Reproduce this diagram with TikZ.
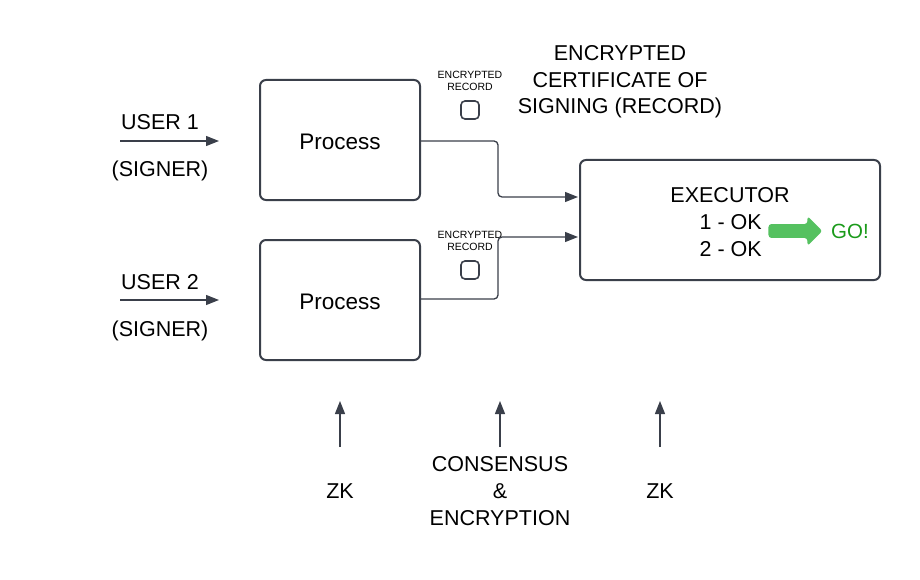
\documentclass[tikz,border=0pt]{standalone}
\usepackage{fontspec}
\setmainfont{Liberation Sans}
\usetikzlibrary{arrows.meta,shapes.arrows}
\definecolor{edge}{HTML}{3A3F4A}
\definecolor{goarrow}{HTML}{55C160}
\definecolor{gotext}{HTML}{1A9A1A}
\begin{document}
\begin{tikzpicture}[x=1pt,y=-1pt,
  box/.style={draw=edge,line width=2pt,rounded corners=6pt,minimum width=160pt,minimum height=120pt,inner sep=0pt},
  rec/.style={draw=edge,line width=1.6pt,rounded corners=4pt,minimum width=18pt,minimum height=18pt,inner sep=0pt},
  lbl/.style={font=\fontsize{21.5}{27}\selectfont,inner sep=0pt,align=center},
  small/.style={font=\fontsize{10.5}{12.5}\selectfont,inner sep=0pt,align=center},
  conn/.style={draw=edge,line width=1.3pt,-{Triangle[length=13pt,width=10pt]}}
]
\useasboundingbox (0,0) rectangle (920,580);
\node[box] (p1) at (340,140) {};
\node[lbl,font=\fontsize{22.5}{27}\selectfont] (p1t) at (340,142) {Process};
\node[box] (p2) at (340,300) {};
\node[lbl,font=\fontsize{22.5}{27}\selectfont] (p2t) at (340,302) {Process};
\node[box,minimum width=300pt] (ex) at (730,220) {};
\node[lbl] (ext) at (730,195) {EXECUTOR};
\node[lbl,anchor=east] (ok1) at (762,222) {1 - OK};
\node[lbl,anchor=east] (ok2) at (762,249) {2 - OK};
\node[single arrow,fill=goarrow,draw=none,minimum height=54pt,minimum width=30pt,single arrow head extend=6pt,inner sep=5pt,rounded corners=3pt] (ga) at (792,231) {};
\node[lbl,text=gotext,font=\fontsize{20.5}{24}\selectfont] (go) at (850,231) {GO!};

\node[lbl] (u1) at (160,122) {USER 1};
\node[lbl] (s1) at (160,171) {(SIGNER)};
\coordinate (u1a) at (120,141);
\coordinate (u1b) at (219,141);
\draw[conn] (u1a) -- (u1b);
\node[lbl] (u2) at (160,282) {USER 2};
\node[lbl] (s2) at (160,331) {(SIGNER)};
\coordinate (u2a) at (120,300);
\coordinate (u2b) at (219,300);
\draw[conn] (u2a) -- (u2b);

\node[small] (r1l) at (470,81) {ENCRYPTED\\RECORD};
\node[rec] (r1) at (470,110) {};
\node[small] (r2l) at (470,241) {ENCRYPTED\\RECORD};
\node[rec] (r2) at (470,270) {};

\node[lbl,font=\fontsize{21.5}{26.5}\selectfont] (cert) at (620,82) {ENCRYPTED\\CERTIFICATE OF\\SIGNING (RECORD)};

\coordinate (e1) at (578,197);
\coordinate (e2) at (578,237);
\draw[conn,rounded corners=4pt] (p1.east |- 0,141) -| (498,197) -- (e1);
\draw[conn,rounded corners=4pt] (p2.east |- 0,299) -| (498,237) -- (e2);

\coordinate (a1s) at (340,447);
\coordinate (a1e) at (340,401);
\coordinate (a2s) at (500,447);
\coordinate (a2e) at (500,401);
\coordinate (a3s) at (660,447);
\coordinate (a3e) at (660,401);
\draw[conn] (a1s) -- (a1e);
\draw[conn] (a2s) -- (a2e);
\draw[conn] (a3s) -- (a3e);
\node[lbl] (zk1) at (340,491) {ZK};
\node[lbl,font=\fontsize{21.5}{27}\selectfont] (cons) at (500,491) {CONSENSUS\\\&\\ENCRYPTION};
\node[lbl] (zk2) at (660,491) {ZK};
\end{tikzpicture}
\end{document}
